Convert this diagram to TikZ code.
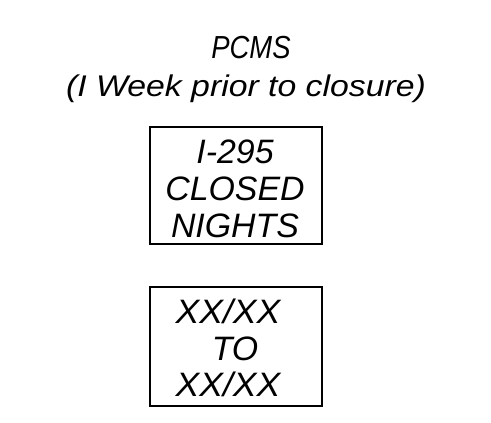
\documentclass[tikz,border=0pt]{standalone}
\usepackage{fontspec}
\setmainfont{Liberation Sans}
\begin{document}
\begin{tikzpicture}[x=1bp,y=-1bp,
  signframe/.style={draw,line width=1.6bp},
  signtext/.style={font=\fontsize{34}{40}\selectfont\itshape,inner sep=0pt,anchor=base},
  titletext/.style={font=\fontsize{30}{34}\selectfont\itshape,inner sep=0pt,anchor=base}]
\useasboundingbox (0,0) rectangle (491,422);
\node[titletext,font=\fontsize{32}{36}\selectfont\itshape] (title1) at (251,58) {\scalebox{0.86}[1]{PCMS}};
\node[titletext] (title2) at (246,96) {\scalebox{1.13}[1]{(I Week prior to closure)}};
\draw[signframe] (150,127) rectangle (322,244);
\node[signtext] (s1a) at (235,163) {I-295};
\node[signtext] (s1b) at (235,200) {CLOSED};
\node[signtext] (s1c) at (235,237) {NIGHTS};
\draw[signframe] (150,287) rectangle (322,406);
\node[signtext] (s2a) at (228,323) {\scalebox{1.05}[1]{XX/XX}};
\node[signtext] (s2b) at (235,360) {TO};
\node[signtext] (s2c) at (228,396) {\scalebox{1.05}[1]{XX/XX}};
\end{tikzpicture}
\end{document}
